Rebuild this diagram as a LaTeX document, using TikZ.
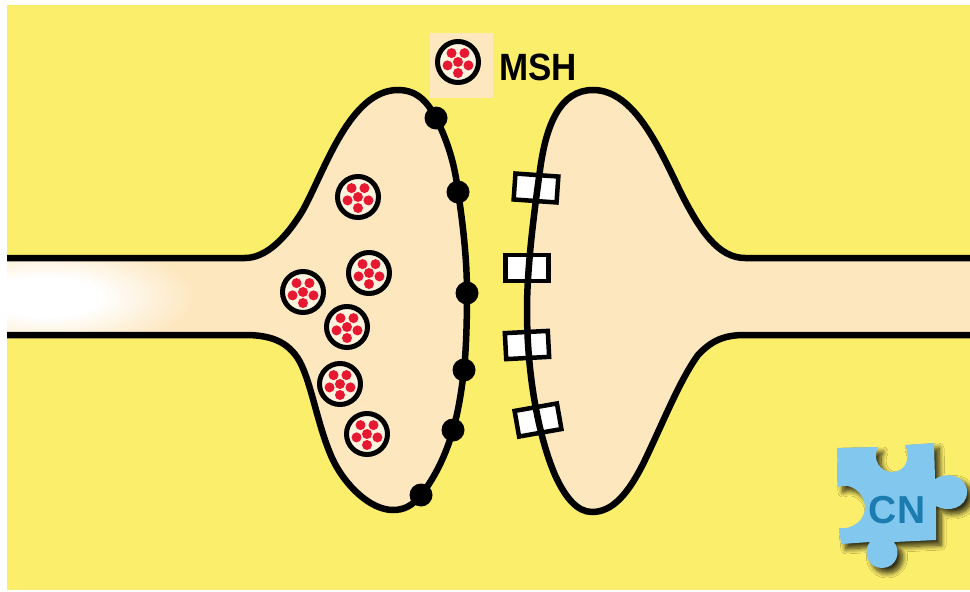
\documentclass[tikz,border=0pt]{standalone}
\usepackage{fontspec}
\usepackage{graphicx}
\setmainfont{Liberation Sans}
\usetikzlibrary{shadows.blur}

\definecolor{bgyellow}{RGB}{251,238,106}
\definecolor{cellpeach}{RGB}{253,231,191}
\definecolor{vescream}{RGB}{254,243,222}
\definecolor{vesred}{RGB}{231,24,50}
\definecolor{puzzleblue}{RGB}{130,199,238}
\definecolor{cnblue}{RGB}{28,124,176}

% soft white glow inside the axon
\pgfdeclareradialshading{axonglow}{\pgfpoint{0bp}{0bp}}{%
  color(0bp)=(white); color(9bp)=(white); color(25bp)=(cellpeach); color(50bp)=(cellpeach)}

% outlines of the two neurons (pixel-like units, y pointing down)
\newcommand\presynpath{%
  (7,258) -- (245,258)
  .. controls (265,258) and (285,240) .. (303,210)
  .. controls (325,170) and (350,90) .. (398,90)
  .. controls (418,90) and (428,103) .. (436,118)
  .. controls (448,142) and (455,165) .. (458,192)
  .. controls (464,230) and (467,265) .. (467,293)
  .. controls (467,325) and (466,350) .. (464,370)
  .. controls (461,395) and (458,412) .. (453,430)
  .. controls (445,458) and (433,480) .. (421,495)
  .. controls (412,506) and (404,510) .. (393,510)
  .. controls (370,510) and (345,485) .. (333,460)
  .. controls (318,428) and (312,385) .. (300,362)
  .. controls (288,340) and (268,335) .. (245,335)
  -- (7,335)}
\newcommand\postsynpath{%
  (975,258) -- (745,258)
  .. controls (718,258) and (700,230) .. (682,195)
  .. controls (660,150) and (635,90) .. (593,90)
  .. controls (560,90) and (546,125) .. (540,170)
  .. controls (533,220) and (527,270) .. (527,310)
  .. controls (527,380) and (540,440) .. (555,475)
  .. controls (565,497) and (577,512) .. (592,512)
  .. controls (612,512) and (628,495) .. (645,460)
  .. controls (665,418) and (680,380) .. (698,355)
  .. controls (712,340) and (725,335) .. (745,335)
  -- (975,335)}

\tikzset{
  membrane/.style={line width=6.5pt, line join=round, line cap=butt},
  receptor/.style={draw, fill=white, line width=4.5pt, minimum width=43pt,
    minimum height=26pt, inner sep=0pt},
  channeldot/.style={circle, fill=black, minimum size=23pt, inner sep=0pt},
  vesicle/.pic={
    \draw[line width=5pt, fill=vescream] (0,0) circle (20.5);
    \foreach \a in {90,162,234,306,18}
      \fill[vesred] (\a:11) circle (5);
    \fill[vesred] (0,0) circle (5);
  }
}

\begin{document}
\begin{tikzpicture}[x=1pt,y=-1pt]
\useasboundingbox (0,0) rectangle (970,592);
\fill[white] (0,0) rectangle (970,592);
\fill[bgyellow] (7,5) rectangle (970,590);

% presynaptic terminal
\fill[cellpeach] \presynpath -- cycle;
\begin{scope}
  \clip (7,258) rectangle (200,335);
  \shade[shading=axonglow] (-105,242) rectangle (195,352);
\end{scope}
\draw[membrane] \presynpath;

% postsynaptic terminal with receptors
\fill[cellpeach] \postsynpath -- cycle;
\node[receptor, rotate=-4] (rec1) at (536,188) {};
\node[receptor] (rec2) at (527,268) {};
\node[receptor, rotate=3] (rec3) at (527,345) {};
\node[receptor, rotate=10] (rec4) at (538,420) {};
\draw[membrane] \postsynpath;

% release sites on the presynaptic membrane
\node[channeldot] (ch1) at (436,118) {};
\node[channeldot] (ch2) at (458,192) {};
\node[channeldot] (ch3) at (467,293) {};
\node[channeldot] (ch4) at (464,370) {};
\node[channeldot] (ch5) at (453,430) {};
\node[channeldot] (ch6) at (421,495) {};

% MSH vesicles
\pic (ves1) at (358,197) {vesicle};
\pic (ves2) at (369,273) {vesicle};
\pic (ves3) at (303,292) {vesicle};
\pic (ves4) at (347,327) {vesicle};
\pic (ves5) at (340,384) {vesicle};
\pic (ves6) at (367,434) {vesicle};

% legend
\fill[cellpeach] (430,33) rectangle (493,98);
\pic (legves) at (458,62) {vesicle};
\node[anchor=base west, inner sep=0pt, font=\fontsize{38}{38}\selectfont\bfseries]
  (msh) at (499,80) {\scalebox{0.92}[1]{MSH}};

% puzzle logo
\fill[puzzleblue, blur shadow={shadow xshift=5pt, shadow yshift=-5pt,
    shadow blur steps=10, shadow blur radius=5pt, shadow opacity=80}]
  (837,448) -- (878,447)
  .. controls (872,460) and (880,472) .. (892,472)
  .. controls (904,472) and (912,460) .. (905,445)
  -- (934,443) -- (935,479)
  .. controls (947,471) and (967,476) .. (967,492)
  .. controls (967,508) and (948,513) .. (936,506)
  -- (936,540) -- (894,542)
  .. controls (902,552) and (896,568) .. (882,568)
  .. controls (868,568) and (862,552) .. (870,542)
  -- (841,544) -- (839,528)
  .. controls (852,530) and (866,520) .. (865,506)
  .. controls (864,492) and (850,482) .. (838,487)
  -- cycle;
\node[text=cnblue, inner sep=0pt, font=\fontsize{39}{39}\selectfont\bfseries] (cn) at (897,510) {CN};
\end{tikzpicture}
\end{document}
